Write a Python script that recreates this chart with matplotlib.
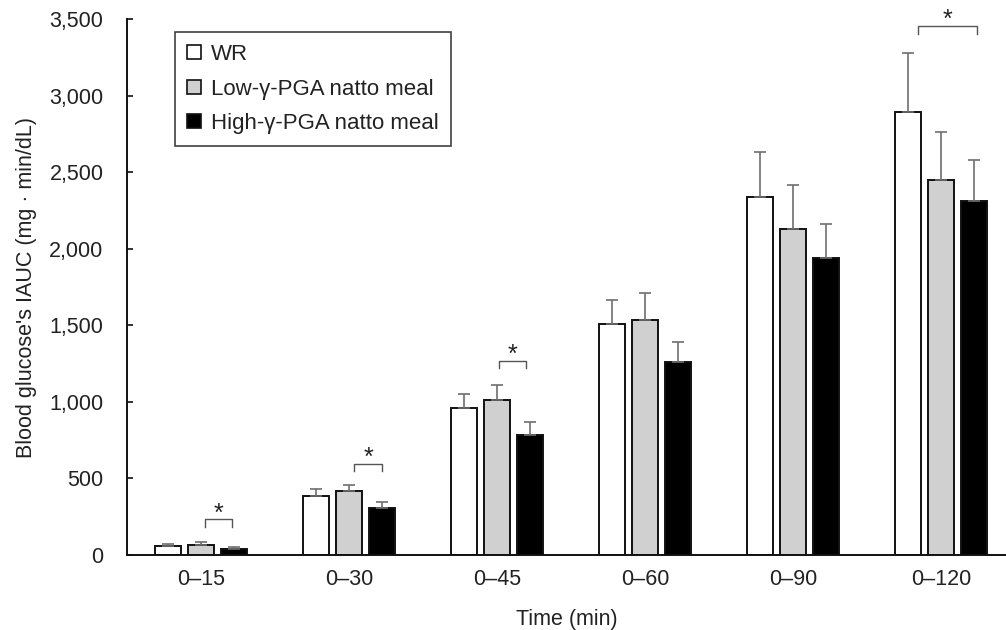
import matplotlib
matplotlib.use("Agg")
import matplotlib.pyplot as plt
from matplotlib.patches import Patch
import numpy as np

plt.rcParams['font.family'] = ['Liberation Sans', 'Noto Sans CJK JP', 'DejaVu Sans']

categories = ["0–15", "0–30", "0–45", "0–60", "0–90", "0–120"]
series_names = ["WR", "Low-γ-PGA natto meal", "High-γ-PGA natto meal"]
wr = [56, 386, 957, 1506, 2340, 2895]
wr_err = [14, 41, 92, 159, 293, 382]
low = [67, 416, 1012, 1535, 2131, 2452]
low_err = [16, 39, 98, 178, 284, 312]
high = [41, 307, 783, 1258, 1942, 2315]
high_err = [7, 35, 85, 133, 218, 264]
yticks = [0, 500, 1000, 1500, 2000, 2500, 3000, 3500]
ytick_labels = ["0", "500", "1,000", "1,500", "2,000", "2,500", "3,000", "3,500"]
# significance brackets
sig_groups = [0, 1, 2, 5]
sig_x0 = [0.027, 0.036, 0.016, -0.155]
sig_x1 = [0.209, 0.226, 0.196, 0.243]
sig_top = [231, 595, 1267, 3455]

fig = plt.figure(figsize=(10.06, 6.3), dpi=100)
W, H = 1006, 630
ax = fig.add_axes([127 / W, (630 - 554.8) / H, (1006 - 127) / W, (554.8 - 19.3) / H])

FS = 15.5
x = np.arange(len(categories))
bw = 0.182
step = 0.223
colors = ["white", "#d0d0d0", "black"]
err_kw = dict(ecolor="#6e6e6e", elinewidth=1.2, capsize=4, capthick=1.2)
for i, (vals, errs) in enumerate([(wr, wr_err), (low, low_err), (high, high_err)]):
    pos = x + (i - 1) * step
    ax.bar(pos, vals, width=bw, color=colors[i], edgecolor="#111111", linewidth=1.4,
           yerr=[np.zeros(len(errs)), errs], error_kw=err_kw, zorder=2,
           label=series_names[i])

leg_len = 48
for g, a, b, t in zip(sig_groups, sig_x0, sig_x1, sig_top):
    xa, xb = g + a, g + b
    ax.plot([xa, xa, xb, xb], [t - leg_len, t, t, t - leg_len], color="#555555",
            lw=1.0, clip_on=False, zorder=3)
    ax.text((xa + xb) / 2, t - 40, "*", ha="center", va="bottom", fontsize=18,
            color="#222222", clip_on=False)

ax.set_xlim(-0.5, (1006 - 201) / 148)
ax.set_ylim(0, 3500)
ax.set_yticks(yticks)
ax.set_yticklabels(ytick_labels)
ax.set_xticks(x)
ax.set_xticklabels(categories)
ax.tick_params(axis="y", direction="in", length=4.5, width=1.2, pad=17, labelsize=FS,
               colors="#111111", labelcolor="#222222")
ax.tick_params(axis="x", length=0, pad=10, labelsize=FS, labelcolor="#222222")
for s in ["top", "right"]:
    ax.spines[s].set_visible(False)
for s in ["left", "bottom"]:
    ax.spines[s].set_linewidth(1.4)
    ax.spines[s].set_color("#111111")

ax.set_ylabel("Blood glucose's IAUC (mg \u00b7 min/dL)", fontsize=FS, color="#222222")
ax.yaxis.set_label_coords(-0.102, 0.5)
ax.set_xlabel("Time (min)", fontsize=FS, color="#222222", labelpad=14)

handles = [Patch(facecolor=c, edgecolor="#111111", linewidth=1.2) for c in colors]
leg = ax.legend(handles, series_names, loc="upper left",
                bbox_to_anchor=((175 - 127) / (1006 - 127), 1 - (32 - 19.3) / (554.8 - 19.3)),
                borderaxespad=0, fontsize=16, handlelength=0.6, handleheight=0.6,
                handletextpad=0.45, labelspacing=0.6, borderpad=0.55, fancybox=False,
                frameon=True, edgecolor="#111111")
leg.get_frame().set_linewidth(1.2)
for t in leg.get_texts():
    t.set_color("#222222")

fig.savefig("out.png", dpi=100)
